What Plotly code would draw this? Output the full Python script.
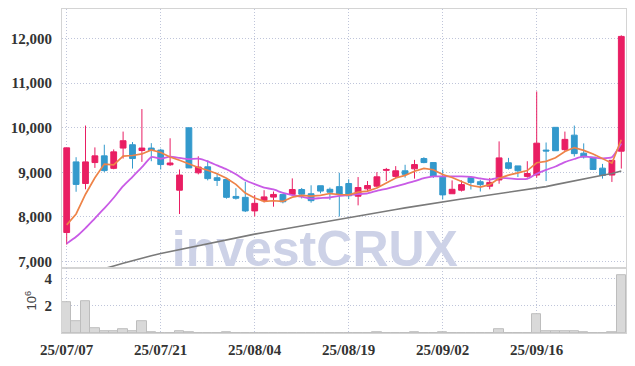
import plotly.graph_objects as go
from plotly.subplots import make_subplots

dates = ["25/07/07","25/07/08","25/07/09","25/07/10","25/07/11",
         "25/07/14","25/07/15","25/07/16","25/07/17","25/07/18",
         "25/07/21","25/07/22","25/07/23","25/07/24","25/07/25",
         "25/07/28","25/07/29","25/07/30","25/07/31","25/08/01",
         "25/08/04","25/08/05","25/08/06","25/08/07","25/08/08",
         "25/08/11","25/08/12","25/08/13","25/08/14","25/08/18",
         "25/08/19","25/08/20","25/08/21","25/08/22","25/08/25",
         "25/08/26","25/08/27","25/08/28","25/08/29","25/09/01",
         "25/09/02","25/09/03","25/09/04","25/09/05","25/09/08",
         "25/09/09","25/09/10","25/09/11","25/09/12","25/09/15",
         "25/09/16","25/09/17","25/09/18","25/09/19","25/09/22",
         "25/09/23","25/09/24","25/09/25","25/09/26","25/09/29"]

open_ = [7650, 9235, 8750, 9220, 9370, 9090, 9545, 9620, 9490, 9545,
         9500, 9170, 8600, 10000, 8990, 9125, 8880, 8840, 8460, 8440,
         8135, 8365, 8445, 8505, 8505, 8615, 8520, 8700, 8620, 8680,
         8750, 8465, 8630, 8690, 9045, 8910, 9035, 9080, 9310, 9220,
         8890, 8520, 8600, 8880, 8790, 8690, 8830, 9215, 9145, 8910,
         8940, 9500, 10010, 9510, 9835, 9430, 9340, 9095, 8940, 9475]
high = [9550, 9340, 10050, 9560, 9620, 9515, 9915, 9680, 10420, 9655,
        9530, 9765, 9065, 10000, 9360, 9270, 8990, 8840, 8645, 8790,
        8490, 8600, 8570, 8505, 8865, 8650, 8710, 8700, 8660, 8990,
        8845, 8895, 8805, 9005, 9100, 9140, 9170, 9280, 9340, 9220,
        9060, 8820, 8820, 8880, 8835, 8875, 9695, 9325, 9145, 9250,
        10815, 9670, 10010, 9915, 10050, 9650, 9340, 9190, 9270, 12075]
low = [7380, 8565, 8620, 9100, 9005, 9070, 9310, 9085, 9235, 9250,
       9065, 9145, 8065, 9100, 8955, 8820, 8695, 8410, 8390, 8110,
       8010, 8325, 8230, 8305, 8475, 8415, 8320, 8530, 8385, 8010,
       8400, 8260, 8585, 8660, 8805, 8865, 8880, 8860, 9205, 8875,
       8390, 8520, 8570, 8615, 8570, 8620, 8745, 9065, 8895, 8880,
       8880, 8805, 9480, 9470, 9355, 9310, 9065, 8860, 8785, 9085]
close = [9550, 8730, 9235, 9370, 9040, 9460, 9710, 9310, 9545, 9490,
         9175, 9210, 8940, 9100, 9120, 8860, 8820, 8440, 8420, 8135,
         8305, 8450, 8505, 8340, 8615, 8510, 8365, 8580, 8555, 8505,
         8475, 8660, 8705, 8900, 9065, 9035, 8955, 9175, 9220, 8910,
         8495, 8620, 8725, 8775, 8725, 8775, 9325, 9090, 9035, 8975,
         9655, 9480, 9485, 9740, 9420, 9345, 9065, 8930, 9270, 12050]

ma5 = [7823, 8067, 8510, 8880, 9185, 9167, 9363, 9378, 9413, 9503,
       9446, 9346, 9272, 9183, 9109, 9046, 8968, 8868, 8732, 8535,
       8424, 8350, 8363, 8347, 8443, 8484, 8467, 8482, 8525, 8503,
       8496, 8555, 8580, 8649, 8761, 8873, 8932, 9026, 9090, 9059,
       8951, 8884, 8794, 8705, 8668, 8724, 8865, 8938, 8990, 9040,
       9216, 9247, 9326, 9467, 9556, 9494, 9411, 9300, 9206, 9732]
ma10 = [7401, 7555, 7750, 7970, 8190, 8430, 8690, 8900, 9115, 9344,
        9306, 9354, 9325, 9298, 9306, 9246, 9157, 9070, 8958, 8822,
        8735, 8659, 8616, 8540, 8489, 8454, 8409, 8423, 8436, 8473,
        8490, 8511, 8531, 8587, 8632, 8685, 8744, 8803, 8870, 8910,
        8912, 8908, 8910, 8898, 8864, 8838, 8875, 8866, 8848, 8854,
        8970, 9056, 9132, 9231, 9300, 9357, 9331, 9315, 9338, 9646]
ma_long = [6610, 6665, 6720, 6780, 6840, 6900, 6960, 7020, 7075, 7130,
           7180, 7225, 7270, 7315, 7360, 7402, 7445, 7487, 7530, 7572,
           7615, 7652, 7690, 7727, 7765, 7802, 7840, 7877, 7915, 7952,
           7990, 8025, 8061, 8096, 8132, 8167, 8203, 8238, 8274, 8309,
           8345, 8374, 8403, 8432, 8461, 8490, 8519, 8548, 8577, 8606,
           8635, 8680, 8725, 8770, 8815, 8855, 8895, 8935, 8975, 9030]
volume_m = [2.28, 0.89, 2.35, 0.36, 0.15, 0.15, 0.29, 0.10, 0.89, 0.03,
            0.02, 0.02, 0.10, 0.06, 0.02, 0.01, 0.01, 0.04, 0.01, 0.01,
            0.01, 0.01, 0.01, 0.01, 0.01, 0.01, 0.01, 0.01, 0.01, 0.01,
            0.01, 0.01, 0.01, 0.06, 0.01, 0.01, 0.01, 0.05, 0.01, 0.01,
            0.05, 0.01, 0.01, 0.01, 0.01, 0.01, 0.29, 0.01, 0.01, 0.01,
            1.38, 0.16, 0.15, 0.15, 0.12, 0.06, 0.01, 0.01, 0.05, 4.29]

price_ticks = [7000, 8000, 9000, 10000, 11000, 12000]
volume_ticks = [2, 4]

xi = list(range(len(dates)))

RED = "#E91E63"
BLUE = "#3399CC"
GRID = "#BFC5DA"
FRAME = "#D4D4D4"
DOT = "1px,2px"
TICKFONT = dict(family="Liberation Sans Narrow", size=15, color="#333333", weight="bold")

fig = make_subplots(rows=2, cols=1, shared_xaxes=True, vertical_spacing=0,
                    row_heights=[0.8, 0.2])

# watermark (drawn first, behind data)
fig.add_trace(go.Scatter(x=[26.4], y=[7180], mode="text", text=["investCRUX"],
                         textfont=dict(family="Liberation Sans", size=50, color="#CDD2E7", weight="bold"),
                         hoverinfo="skip", showlegend=False), row=1, col=1)

fig.add_trace(go.Candlestick(
    x=xi, open=open_, high=high, low=low, close=close,
    increasing=dict(line=dict(color=RED, width=1), fillcolor=RED),
    decreasing=dict(line=dict(color=BLUE, width=1), fillcolor=BLUE),
    whiskerwidth=0, showlegend=False), row=1, col=1)

fig.add_trace(go.Scatter(x=xi, y=ma_long, mode="lines",
                         line=dict(color="#7A7A7A", width=1.6), showlegend=False), row=1, col=1)
fig.add_trace(go.Scatter(x=xi, y=ma10, mode="lines",
                         line=dict(color="#C95BE6", width=1.8, shape="spline", smoothing=0.5),
                         showlegend=False), row=1, col=1)
fig.add_trace(go.Scatter(x=xi, y=ma5, mode="lines",
                         line=dict(color="#EE8348", width=1.7), showlegend=False), row=1, col=1)

fig.add_trace(go.Bar(x=xi, y=volume_m, marker=dict(color="#D9D9D9", line=dict(color="#BDBDBD", width=1)),
                     showlegend=False), row=2, col=1)

fig.update_layout(
    width=635, height=366,
    margin=dict(l=62, r=8, t=9, b=29),
    paper_bgcolor="white", plot_bgcolor="white",
    bargap=0, boxgap=0.12, showlegend=False,
)

for r in (1, 2):
    fig.update_xaxes(row=r, col=1, range=[-0.5, 59.5], tickmode="array",
                     tickvals=xi[::10], ticktext=dates[::10],
                     showgrid=True, gridcolor=GRID, griddash=DOT, gridwidth=1,
                     showline=True, linecolor=FRAME, mirror=True, zeroline=False,
                     rangeslider_visible=False, tickfont=TICKFONT, ticks="",
                     ticklabelstandoff=3)

fig.update_yaxes(row=1, col=1, range=[6850, 12665], tickmode="array", tickvals=price_ticks,
                 tickformat=",", showgrid=True, gridcolor=GRID, griddash=DOT,
                 showline=True, linecolor=FRAME, mirror=True, zeroline=False,
                 tickfont=TICKFONT, ticks="", ticklabelstandoff=6)
fig.update_yaxes(row=2, col=1, range=[0, 4.77], tickmode="array", tickvals=volume_ticks,
                 showgrid=True, gridcolor=GRID, griddash=DOT,
                 showline=True, linecolor=FRAME, mirror=True, zeroline=False,
                 tickfont=TICKFONT, ticks="", ticklabelstandoff=6,
                 title=dict(text="10<sup>6</sup>", standoff=4,
                            font=dict(family="Liberation Sans", size=13, color="#444444")))

fig.write_html("out.html")
